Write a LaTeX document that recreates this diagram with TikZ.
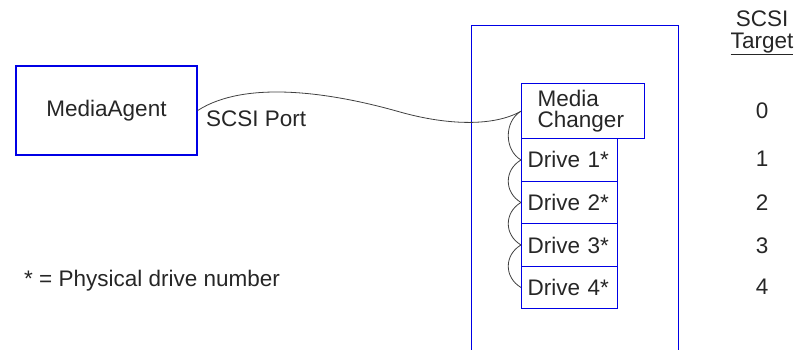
\documentclass[tikz,border=0pt]{standalone}
\usepackage{fontspec}
\setmainfont{Liberation Sans}
\begin{document}
\begin{tikzpicture}[x = 1pt, y = -1pt]
\tikzstyle{BoxStyle}=[draw = blue!90!black,
                      line width = 1.4pt,
                      inner sep = 0pt]
\tikzstyle{LabelStyle}=[font = \fontsize{22.5}{24}\selectfont,
                        text = black!85]
\tikzstyle{CableStyle}=[draw = black!75, line width = 0.8pt]
\useasboundingbox (0,0) rectangle (799,349);
% hosts and library
\node[BoxStyle, LabelStyle, minimum width = 181pt, minimum height = 89pt] (agent) at (106.5,110.5) {MediaAgent};
\node[BoxStyle, anchor = north west, minimum width = 207pt, minimum height = 345pt] (library) at (471,25) {};
\node[BoxStyle, LabelStyle, anchor = north west, minimum width = 123pt, minimum height = 55pt,
      inner xsep = 16pt, text width = 91pt, align = left] (changer) at (521,83) {Media\\[-3pt]Changer};
\foreach \n in {1,...,4}
  \node[BoxStyle, LabelStyle, anchor = north west, minimum width = 96pt, minimum height = 42.5pt,
        inner xsep = 6pt, text width = 84pt, align = left] (drive\n) at (521,{138 + 42.5*(\n-1)}) {Drive \n*};
% SCSI targets
\node[LabelStyle, align = center] (targethead) at (762,33) {SCSI\\[-2pt]\underline{Target}};
\foreach \n/\y in {0/111, 1/159, 2/203, 3/246, 4/287}
  \node[LabelStyle] (target\n) at (762,\y) {\n};
% texts
\node[LabelStyle, anchor = west, inner sep = 0pt] (port) at (206,119) {SCSI Port};
\node[LabelStyle, anchor = west, inner sep = 0pt] (note) at (24,281) {* = Physical drive number};
% cables
\draw[CableStyle] (agent.east) .. controls (245,80) and (330,92) .. (400,112)
                  .. controls (450,126) and (495,126) .. (changer.west);
\draw[CableStyle] (changer.west) .. controls +(-17,10) and +(-17,-10) .. (drive1.west);
\foreach \a/\b in {1/2, 2/3, 3/4}
  \draw[CableStyle] (drive\a.west) .. controls +(-17,10) and +(-17,-10) .. (drive\b.west);
\end{tikzpicture}
\end{document}
